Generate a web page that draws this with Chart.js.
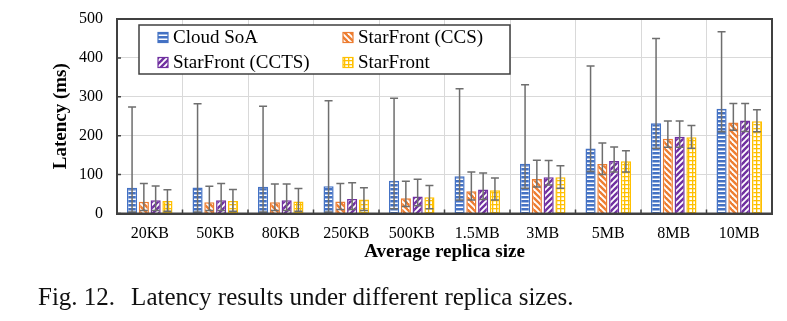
<!DOCTYPE html>
<html>
<head>
<meta charset="utf-8">
<script src="https://cdn.jsdelivr.net/npm/chart.js@4.4.1/dist/chart.umd.min.js"></script>
<style>
  html, body { margin: 0; padding: 0; background: #fff; }
  #wrap { position: relative; width: 787px; height: 321px; }
  #caption {
    position: absolute; left: 38px; top: 283px;
    font: 25px "Liberation Serif", "Times New Roman", serif;
    white-space: pre; color: #111;
  }
  #caption .txt { margin-left: 16px; }
</style>
</head>
<body>
<div id="wrap">
  <canvas id="latencyChart" width="787" height="321"></canvas>
  <div id="caption"><span>Fig. 12.</span><span class="txt">Latency results under different replica sizes.</span></div>
</div>
<script>
// replica sizes on the x axis
var sizes = ['20KB', '50KB', '80KB', '250KB', '500KB', '1.5MB', '3MB', '5MB', '8MB', '10MB'];
var seriesNames = ['Cloud SoA', 'StarFront (CCS)', 'StarFront (CCTS)', 'StarFront'];
var yTicks = [0, 100, 200, 300, 400, 500];

// mean latency (ms)
var cloudMean = [66, 67, 69, 70, 84, 96, 128, 167, 232, 269];
var ccsMean   = [30, 29, 29, 31, 39, 57, 89, 127, 192, 234];
var cctsMean  = [34, 34, 34, 37, 44, 62, 93, 135, 197, 239];
var sfMean    = [32, 32, 31, 36, 42, 60, 93, 134, 196, 237];

// error bar ends (ms)
var cloudLow  = [4, 4, 4, 4, 12, 35, 65, 108, 168, 210];
var cloudHigh = [274, 282, 276, 290, 296, 321, 331, 379, 450, 467];
var ccsLow    = [8, 8, 8, 10, 18, 35, 68, 100, 170, 214];
var ccsHigh   = [77, 70, 76, 77, 83, 107, 137, 181, 238, 283];
var cctsLow   = [8, 8, 8, 10, 20, 36, 73, 107, 170, 211];
var cctsHigh  = [71, 77, 76, 79, 88, 104, 136, 171, 238, 283];
var sfLow     = [6, 6, 6, 8, 12, 35, 65, 107, 168, 210];
var sfHigh    = [61, 62, 64, 66, 72, 91, 123, 161, 226, 267];

var BLUE = '#4472C4', ORANGE = '#ED7D31', PURPLE = '#7030A0', GOLD = '#FFC000';
var SERIF = '"Liberation Serif", "Times New Roman", serif';

// fill patterns for the bars
function makePattern(kind, color) {
  var c = document.createElement('canvas');
  var g = c.getContext('2d');
  var s = (kind === 'back' || kind === 'fwd') ? 6 : 4;
  c.width = s; c.height = s;
  g.fillStyle = '#fff';
  g.fillRect(0, 0, s, s);
  g.fillStyle = color;
  g.strokeStyle = color;
  if (kind === 'hlines') {
    g.fillRect(0, 0, s, 2.5);
  } else if (kind === 'grid') {
    g.fillRect(0, 0, s, 1.3);
    g.fillRect(0, 0, 1.3, s);
  } else {
    g.lineWidth = 2.4;
    for (var k = -1; k <= 1; k++) {
      g.beginPath();
      if (kind === 'back') {
        g.moveTo(k * s - 1, -1); g.lineTo(k * s + s + 1, s + 1);
      } else {
        g.moveTo(k * s - 1, s + 1); g.lineTo(k * s + s + 1, -1);
      }
      g.stroke();
    }
  }
  return g.createPattern(c, 'repeat');
}

var fills = [
  makePattern('hlines', BLUE),
  makePattern('back', ORANGE),
  makePattern('fwd', PURPLE),
  makePattern('grid', GOLD)
];
var borders = [BLUE, ORANGE, PURPLE, GOLD];
var means = [cloudMean, ccsMean, cctsMean, sfMean];
var lows = [cloudLow, ccsLow, cctsLow, sfLow];
var highs = [cloudHigh, ccsHigh, cctsHigh, sfHigh];

var datasets = [];
for (var i = 0; i < seriesNames.length; i++) {
  datasets.push({
    label: seriesNames[i],
    data: means[i],
    backgroundColor: fills[i],
    borderColor: borders[i],
    borderWidth: 1.5,
    borderSkipped: 'bottom',
    categoryPercentage: 0.72,
    barPercentage: 0.86,
    errLow: lows[i],
    errHigh: highs[i]
  });
}

// whiskers on each bar
var errorBars = {
  id: 'errorBars',
  afterDatasetsDraw: function(chart) {
    var ctx = chart.ctx, y = chart.scales.y;
    ctx.save();
    ctx.strokeStyle = '#6e6e6e';
    ctx.lineWidth = 1.5;
    chart.data.datasets.forEach(function(ds, di) {
      var meta = chart.getDatasetMeta(di);
      meta.data.forEach(function(bar, j) {
        var x = bar.x;
        var y0 = y.getPixelForValue(ds.errLow[j]);
        var y1 = y.getPixelForValue(ds.errHigh[j]);
        ctx.beginPath();
        ctx.moveTo(x, y0); ctx.lineTo(x, y1);
        ctx.moveTo(x - 4, y0); ctx.lineTo(x + 4, y0);
        ctx.moveTo(x - 4, y1); ctx.lineTo(x + 4, y1);
        ctx.stroke();
      });
    });
    ctx.restore();
  }
};

// plot frame, inner tick marks and the boxed legend
var frameAndLegend = {
  id: 'frameAndLegend',
  afterDraw: function(chart) {
    var ctx = chart.ctx, a = chart.chartArea;
    var ys = chart.scales.y;
    ctx.save();
    ctx.strokeStyle = '#404040';
    ctx.lineWidth = 2;
    ctx.strokeRect(a.left, a.top, a.right - a.left, a.bottom - a.top);

    ctx.lineWidth = 1.5;
    ctx.beginPath();
    var step = (a.right - a.left) / sizes.length;
    for (var k = 1; k < sizes.length; k++) {
      var bx = a.left + k * step;
      ctx.moveTo(bx, a.bottom); ctx.lineTo(bx, a.bottom - 4);
    }
    yTicks.forEach(function(v) {
      var py = ys.getPixelForValue(v);
      ctx.moveTo(a.left, py); ctx.lineTo(a.left + 4, py);
    });
    ctx.stroke();

    // legend box
    var lx = a.left + 22, ly = a.top + 6, lw = 371, lh = 49;
    ctx.fillStyle = '#fff';
    ctx.fillRect(lx, ly, lw, lh);
    ctx.strokeStyle = '#404040';
    ctx.lineWidth = 1.5;
    ctx.strokeRect(lx, ly, lw, lh);
    ctx.font = '19px ' + SERIF;
    ctx.textBaseline = 'middle';
    chart.data.datasets.forEach(function(ds, di) {
      var col = di % 2, row = Math.floor(di / 2);
      var ix = lx + 19 + col * 185, iy = ly + 12.5 + row * 25;
      ctx.fillStyle = ds.backgroundColor;
      ctx.fillRect(ix, iy - 5, 10, 10);
      ctx.strokeStyle = ds.borderColor;
      ctx.lineWidth = 1.2;
      ctx.strokeRect(ix, iy - 5, 10, 10);
      ctx.fillStyle = '#000';
      ctx.fillText(ds.label, ix + 15, iy + 1);
    });
    ctx.restore();
  }
};

new Chart(document.getElementById('latencyChart').getContext('2d'), {
  type: 'bar',
  data: { labels: sizes, datasets: datasets },
  plugins: [errorBars, frameAndLegend],
  options: {
    responsive: false,
    animation: false,
    layout: { padding: { left: 0, right: 15, top: 19, bottom: 57.5 } },
    plugins: { legend: { display: false }, tooltip: { enabled: false } },
    scales: {
      x: {
        afterFit: function(s) { s.height = 50; },
        grid: { color: '#d9d9d9', lineWidth: 1, drawTicks: false, offset: true },
        border: { display: true, color: '#404040', width: 2 },
        ticks: { color: '#000', padding: 11, font: { family: SERIF, size: 16 } },
        title: {
          display: true, text: 'Average replica size', color: '#000',
          padding: 0, font: { family: SERIF, size: 19, weight: 'bold' }
        }
      },
      y: {
        min: 0, max: 500,
        afterFit: function(s) { s.width = 117; s.paddingTop = 0; s.paddingBottom = 0; },
        afterBuildTicks: function(s) { s.ticks = yTicks.map(function(v) { return { value: v }; }); },
        grid: { color: '#d9d9d9', lineWidth: 1, drawTicks: false },
        border: { display: true, color: '#404040', width: 2 },
        ticks: { color: '#000', padding: 14, font: { family: SERIF, size: 16 } },
        title: {
          display: true, text: 'Latency (ms)', color: '#000',
          padding: { top: 50, bottom: 0 }, font: { family: SERIF, size: 19, weight: 'bold' }
        }
      }
    }
  }
});
</script>
</body>
</html>
